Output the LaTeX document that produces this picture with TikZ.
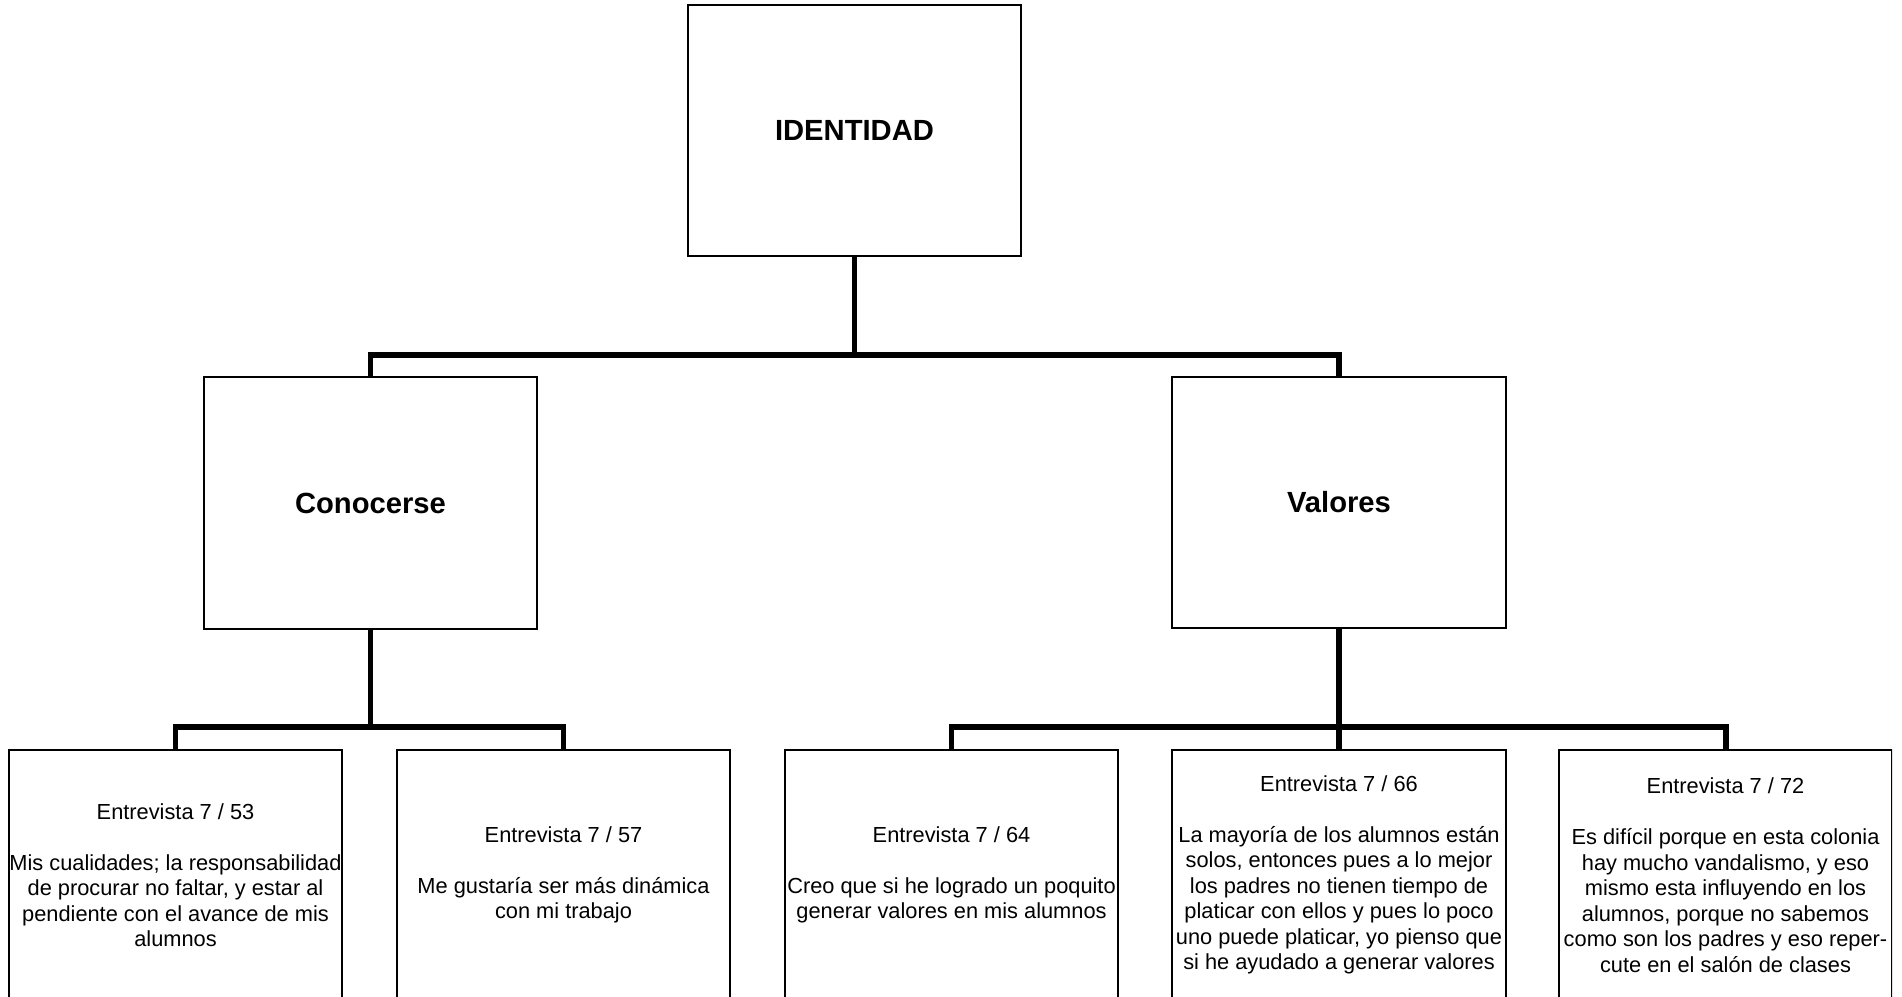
\documentclass[tikz,border=0pt]{standalone}
\usepackage{fontspec}
\setmainfont{Liberation Sans}

\begin{document}
\begin{tikzpicture}[x=0.01cm,y=-0.01cm]
  \tikzset{
    head/.style={draw,line width=0.6pt,minimum width=3.33cm,minimum height=2.51cm,
      font=\fontsize{8.3}{10}\selectfont\bfseries},
    quote/.style={draw,line width=0.6pt,minimum width=3.33cm,minimum height=2.5cm,
      align=center,inner sep=0pt,font=\fontsize{6.2}{7.25}\selectfont},
    link/.style={line width=1.7pt}
  }
  \useasboundingbox (0,0) rectangle (1902,997);
  \clip (0,0) rectangle (1892,997);

  \node[head] (ident) at (854.5,130.5) {IDENTIDAD};
  \node[head] (conoc) at (370.5,503) {Conocerse};
  \node[head] (valor) at (1339,502.5) {Valores};

  \node[quote] (q53) at (175.5,875) {Entrevista 7 / 53\\[7.25pt]
    Mis cualidades; la responsabilidad\\de procurar no faltar, y estar al\\
    pendiente con el avance de mis\\alumnos};
  \node[quote] (q57) at (563.5,875) {Entrevista 7 / 57\\[7.25pt]
    Me gustaría ser más dinámica\\con mi trabajo};
  \node[quote] (q64) at (951.5,875) {Entrevista 7 / 64\\[7.25pt]
    Creo que si he logrado un poquito\\generar valores en mis alumnos};
  \node[quote] (q66) at (1339,875) {Entrevista 7 / 66\\[7.25pt]
    La mayoría de los alumnos están\\solos, entonces pues a lo mejor\\
    los padres no tienen tiempo de\\platicar con ellos y pues lo poco\\
    uno puede platicar, yo pienso que\\si he ayudado a generar valores};
  \node[quote] (q72) at (1725.5,875) {Entrevista 7 / 72\\[7.25pt]
    Es difícil porque en esta colonia\\hay mucho vandalismo, y eso\\
    mismo esta influyendo en los\\alumnos, porque no sabemos\\
    como son los padres y eso reper-\\cute en el salón de clases};

  \coordinate (topbar) at (0,355);
  \coordinate (lowbar) at (0,727);

  \draw[link] (ident.south) -- (ident.south |- topbar);
  \draw[link] (conoc.north) |- (ident.south |- topbar) -| (valor.north);

  \draw[link] (conoc.south) -- (conoc.south |- lowbar);
  \draw[link] (q53.north) |- (conoc.south |- lowbar) -| (q57.north);

  \draw[link] (valor.south) -- (q66.north);
  \draw[link] (q64.north) |- (valor.south |- lowbar) -| (q72.north);
\end{tikzpicture}
\end{document}
